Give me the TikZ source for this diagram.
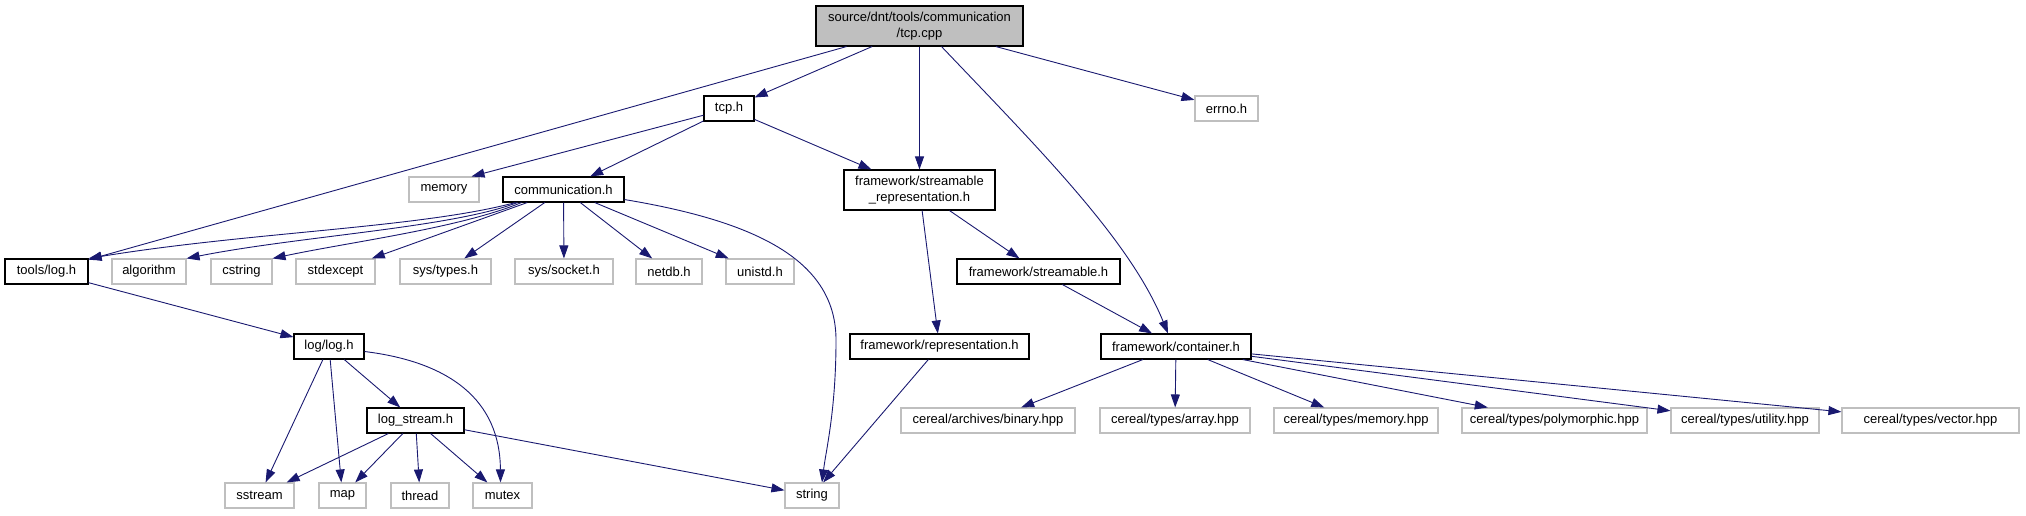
\documentclass[tikz,border=0pt]{standalone}
\usepackage{fontspec}
\setmainfont{Liberation Sans}
\usetikzlibrary{arrows.meta,calc}
\definecolor{edgec}{HTML}{191970}
\definecolor{greyb}{HTML}{BFBFBF}
\begin{document}
\begin{tikzpicture}[x=1pt,y=-1pt,
 box/.style={draw=black, line width=1.1pt, fill=white, inner sep=0pt, font=\fontsize{13}{16}\selectfont, align=center, minimum height=25pt},
 ext/.style={box, draw=greyb},
 edge/.style={draw=edgec, line width=0.9pt, -{Triangle[length=13pt,width=9pt]}},
]
\useasboundingbox (0,0) rectangle (2026,515);
% rank 0
\node[box, fill=greyb, minimum width=207pt, minimum height=40pt] (root) at (919.5,26) {source/dnt/tools/communication\\/tcp.cpp};
% rank 1
\node[box, minimum width=50pt] (tcph) at (729,108.5) {tcp.h};
\node[ext, minimum width=63pt] (errno) at (1226.5,108.5) {errno.h};
% rank 2
\node[ext, minimum width=70pt] (memory) at (444,189.5) {memory};
\node[box, minimum width=121pt] (comm) at (563.5,189.5) {communication.h};
\node[box, minimum width=151pt, minimum height=40pt] (srep) at (919.5,190) {framework/streamable\\\_representation.h};
% rank 3
\node[box, minimum width=83pt] (toolslog) at (46.5,271.5) {tools/log.h};
\node[ext, minimum width=74pt] (algorithm) at (149,271.5) {algorithm};
\node[ext, minimum width=61pt] (cstring) at (241.5,271.5) {cstring};
\node[ext, minimum width=79pt] (stdexcept) at (335.5,271.5) {stdexcept};
\node[ext, minimum width=91pt] (systypes) at (445.5,271.5) {sys/types.h};
\node[ext, minimum width=98pt] (syssocket) at (564,271.5) {sys/socket.h};
\node[ext, minimum width=66pt] (netdb) at (669,271.5) {netdb.h};
\node[ext, minimum width=68pt] (unistd) at (760,271.5) {unistd.h};
\node[box, minimum width=163pt] (fstream) at (1038.5,271.5) {framework/streamable.h};
% rank 4
\node[box, minimum width=70pt] (loglog) at (329,346.5) {log/log.h};
\node[box, minimum width=179pt] (frep) at (939.5,346.5) {framework/representation.h};
\node[box, minimum width=150pt] (fcont) at (1176,346.5) {framework/container.h};
% rank 5
\node[box, minimum width=97pt] (logstream) at (415.5,420.5) {log\_stream.h};
\node[ext, minimum width=174pt] (binary) at (988,420.5) {cereal/archives/binary.hpp};
\node[ext, minimum width=150pt] (array) at (1175,420.5) {cereal/types/array.hpp};
\node[ext, minimum width=164pt] (cmemory) at (1356,420.5) {cereal/types/memory.hpp};
\node[ext, minimum width=185pt] (poly) at (1554.5,420.5) {cereal/types/polymorphic.hpp};
\node[ext, minimum width=148pt] (utility) at (1745,420.5) {cereal/types/utility.hpp};
\node[ext, minimum width=177pt] (vector) at (1930.5,420.5) {cereal/types/vector.hpp};
% rank 6
\node[ext, minimum width=69pt] (sstream) at (259.5,495.5) {sstream};
\node[ext, minimum width=47pt] (map) at (342.5,495.5) {map};
\node[ext, minimum width=58pt] (thread) at (420,495.5) {thread};
\node[ext, minimum width=59pt] (mutex) at (502.5,495.5) {mutex};
\node[ext, minimum width=54pt] (string) at (812,495.5) {string};
% edges from root
\draw[edge] (root) -- (toolslog);
\draw[edge] (root) -- (tcph);
\draw[edge] (root) -- (srep);
\draw[edge] ($(root.south)+(22,0)$) .. controls (1040,150) and (1130,240) .. ($(fcont.north)+(-8,0)$);
\draw[edge] (root) -- (errno);
% tcp.h
\draw[edge] (tcph) -- ($(memory.north east)+(-8,0)$);
\draw[edge] (tcph) -- (comm);
\draw[edge] (tcph) -- (srep);
% communication.h
\draw[edge] ($(comm.south west)+(13,0)$) .. controls (420,228) and (250,232) .. (toolslog.north east);
\draw[edge] ($(comm.south west)+(15,0)$) .. controls (450,228) and (300,236) .. (algorithm.north east);
\draw[edge] ($(comm.south west)+(19,0)$) .. controls (460,228) and (350,242) .. (cstring.north east);
\draw[edge] (comm) -- (stdexcept);
\draw[edge] (comm) -- (systypes);
\draw[edge] (comm) -- (syssocket);
\draw[edge] (comm) -- (netdb);
\draw[edge] (comm) -- (unistd);
\draw[edge] ($(comm.south east)+(0,-3)$) .. controls (760,222) and (836,262) .. (836,340) .. controls (836,410) and (826,450) .. ($(string.north)+(10,0)$);
% tools/log.h
\draw[edge] (toolslog) -- (loglog);
% log/log.h
\draw[edge] (loglog) -- (sstream);
\draw[edge] (loglog) -- (map);
\draw[edge] (loglog) -- (logstream);
\draw[edge] ($(loglog.east)+(0,5)$) .. controls (450,362) and (500,400) .. ($(mutex.north)+(-2,0)$);
% log_stream.h
\draw[edge] (logstream) -- (sstream);
\draw[edge] (logstream) -- (map);
\draw[edge] (logstream) -- (thread);
\draw[edge] (logstream) -- (mutex);
\draw[edge] (logstream) -- (string);
% streamable_representation
\draw[edge] (srep) -- (frep);
\draw[edge] (srep) -- (fstream);
\draw[edge] (fstream) -- (fcont);
\draw[edge] (frep) -- (string);
% container
\draw[edge] (fcont) -- (binary);
\draw[edge] (fcont) -- (array);
\draw[edge] (fcont) -- (cmemory);
\draw[edge] (fcont) -- (poly);
\draw[edge] (fcont) -- (utility);
\draw[edge] (fcont) -- (vector);
\end{tikzpicture}
\end{document}
